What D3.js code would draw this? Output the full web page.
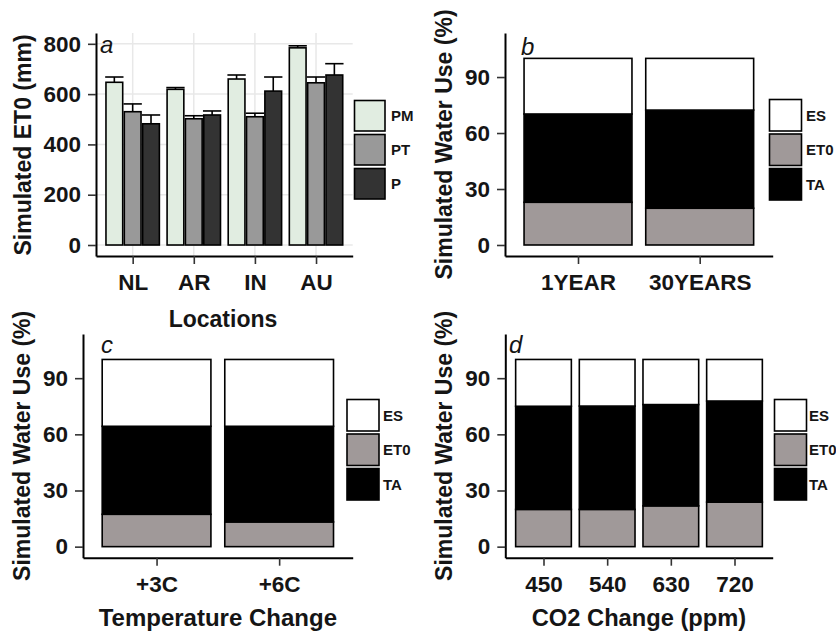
<!DOCTYPE html>
<html>
<head>
<meta charset="utf-8">
<script src="https://cdn.jsdelivr.net/npm/d3@7"></script>
<style>
html,body{margin:0;padding:0;background:#fff;}
svg{display:block;}
text{font-family:"Liberation Sans",Arial,sans-serif;fill:#151515;}
</style>
</head>
<body>
<svg id="chart" width="836" height="635"></svg>
<script>
// ---------- DATA ----------
// Panel a: simulated ET0 (mm) by location and method
const locations = ["NL", "AR", "IN", "AU"];
const methods = ["PM", "PT", "P"];
const pmValues = [647, 619, 660, 784];
const pmErrTop = [668, 626, 676, 792];
const ptValues = [530, 502, 510, 645];
const ptErrTop = [561, 514, 524, 668];
const pValues  = [482, 517, 612, 676];
const pErrTop  = [517, 533, 668, 721];
const etTicks = [0, 200, 400, 600, 800];

// Panels b-d: simulated water use (%) — stacked ET0 / TA / ES
const components = ["ET0", "TA", "ES"];
const legendOrder = ["ES", "ET0", "TA"];
const useTicks = [0, 30, 60, 90];

const periodCats = ["1YEAR", "30YEARS"];
const periodET0 = [22.9, 19.7];
const periodTA  = [47.3, 52.6];
const periodES  = [29.8, 27.7];

const tempCats = ["+3C", "+6C"];
const tempET0 = [17.3, 13.2];
const tempTA  = [47.0, 51.1];
const tempES  = [35.7, 35.7];

const co2Cats = ["450", "540", "630", "720"];
const co2ET0 = [19.9, 19.9, 21.8, 23.8];
const co2TA  = [55.1, 55.2, 54.1, 54.0];
const co2ES  = [25.0, 24.9, 24.1, 22.2];

// ---------- STYLE ----------
const methodColor = {PM: "#e1ede1", PT: "#999999", P: "#333333"};
const compColor = {ES: "#ffffff", ET0: "#a09999", TA: "#000000"};
const TICK_FONT = 22.5;

const svg = d3.select("#chart");

function styleAxis(g) {
  g.select(".domain").attr("stroke", "#000").attr("stroke-width", 2);
  g.selectAll(".tick line").attr("stroke", "#333").attr("stroke-width", 1.6);
  g.selectAll(".tick text")
    .attr("font-family", "Liberation Sans, Arial, sans-serif")
    .attr("font-size", TICK_FONT).attr("font-weight", "bold").attr("fill", "#151515");
}

function drawAxes(P, x, y, cats, ticks, yFmt) {
  const gy = svg.append("g").attr("transform", `translate(${P.left},0)`)
    .call(d3.axisLeft(y).tickValues(ticks).tickSize(8).tickSizeOuter(0).tickPadding(7).tickFormat(yFmt));
  styleAxis(gy);
  const gx = svg.append("g").attr("transform", `translate(0,${P.bottom})`)
    .call(d3.axisBottom(x).tickValues(cats.map((c, i) => i + 1)).tickSize(8).tickSizeOuter(0)
      .tickPadding(10).tickFormat((d) => cats[d - 1]));
  styleAxis(gx);
  gx.selectAll(".tick text").attr("dy", "0.71em");
}

function legend(x0, y0, keys, colors, labelX, labelWeight, keyW, keyH, gap) {
  keys.forEach((k, i) => {
    const yy = y0 + i * (keyH + gap);
    svg.append("rect").attr("x", x0).attr("y", yy).attr("width", keyW).attr("height", keyH)
      .attr("fill", colors[k]).attr("stroke", "#000").attr("stroke-width", 1.6);
    svg.append("text").attr("x", labelX).attr("y", yy + keyH / 2).attr("dy", "0.36em")
      .attr("font-size", 15).attr("font-weight", labelWeight).text(k);
  });
}

function yTitle(txt, x, y) {
  svg.append("text").attr("transform", `translate(${x},${y}) rotate(-90)`)
    .attr("text-anchor", "middle").attr("font-size", 23).attr("font-weight", "bold").text(txt);
}
function xTitle(txt, x, y, weight, size) {
  svg.append("text").attr("x", x).attr("y", y).attr("text-anchor", "middle")
    .attr("font-size", size).attr("font-weight", weight).text(txt);
}
function panelTag(txt, x, y) {
  svg.append("text").attr("x", x).attr("y", y).attr("font-size", 24)
    .attr("font-style", "italic").text(txt);
}

// ---------- PANEL A ----------
{
  const P = {left: 96, right: 352.7, top: 33, bottom: 256};
  const x = d3.scaleLinear().domain([0.4, locations.length + 0.6]).range([P.left, P.right]);
  const y = d3.scaleLinear().domain([-43.7, 843]).range([P.bottom, P.top]);

  // grid
  const grid = svg.append("g");
  grid.selectAll("line.h").data(etTicks).join("line")
    .attr("x1", P.left).attr("x2", P.right).attr("y1", (d) => y(d)).attr("y2", (d) => y(d))
    .attr("stroke", "#e8e8e8").attr("stroke-width", 1.5);
  grid.selectAll("line.v").data(locations.map((c, i) => i + 1)).join("line")
    .attr("y1", P.top).attr("y2", P.bottom).attr("x1", (d) => x(d)).attr("x2", (d) => x(d))
    .attr("stroke", "#e8e8e8").attr("stroke-width", 1.5);

  const series = [
    {m: "PM", v: pmValues, e: pmErrTop},
    {m: "PT", v: ptValues, e: ptErrTop},
    {m: "P",  v: pValues,  e: pErrTop}
  ];
  const dodge = 0.9 / methods.length;
  const rows = [];
  series.forEach((s, j) => locations.forEach((loc, i) => {
    rows.push({m: s.m, i: i + 1, j, v: s.v[i], e: s.e[i]});
  }));
  const bx0 = (d) => x(d.i - 0.45 + d.j * dodge);
  const bx1 = (d) => x(d.i - 0.45 + (d.j + 1) * dodge);

  // error bars (upper half)
  const eb = svg.append("g");
  eb.selectAll("line.stem").data(rows).join("line")
    .attr("x1", (d) => (bx0(d) + bx1(d)) / 2).attr("x2", (d) => (bx0(d) + bx1(d)) / 2)
    .attr("y1", (d) => y(d.v)).attr("y2", (d) => y(d.e))
    .attr("stroke", "#000").attr("stroke-width", 1.6);
  eb.selectAll("line.cap").data(rows).join("line")
    .attr("x1", (d) => bx0(d)).attr("x2", (d) => bx1(d))
    .attr("y1", (d) => y(d.e)).attr("y2", (d) => y(d.e))
    .attr("stroke", "#000").attr("stroke-width", 1.6);

  svg.append("g").selectAll("rect").data(rows).join("rect")
    .attr("x", (d) => bx0(d) + 0.8).attr("width", (d) => bx1(d) - bx0(d) - 1.6)
    .attr("y", (d) => y(d.v)).attr("height", (d) => y(0) - y(d.v))
    .attr("fill", (d) => methodColor[d.m]).attr("stroke", "#000").attr("stroke-width", 1.6);

  drawAxes(P, x, y, locations, etTicks, d3.format("d"));
  panelTag("a", 100, 53);
  yTitle("Simulated ET0 (mm)", 31, 145);
  xTitle("Locations", 223, 327, "bold", 23);
  legend(354.5, 100.5, methods, methodColor, 391, "bold", 30.5, 30.5, 3.5);
}

// ---------- STACKED PANELS ----------
function stackedPanel(P, cats, et0, ta, es, tag, tagPos, titleX, titleWeight, titleSize, legX, legLabelX, legY) {
  const x = d3.scaleLinear().domain([0.4, cats.length + 0.6]).range([P.left, P.right]);
  const y = d3.scaleLinear().domain([-5.9, 113.6]).range([P.bottom, P.top]);
  const table = cats.map((c, i) => ({i: i + 1, ET0: et0[i], TA: ta[i], ES: es[i]}));
  const layers = d3.stack().keys(components)(table);
  const g = svg.append("g");
  layers.forEach((layer) => {
    g.append("g").selectAll("rect").data(layer).join("rect")
      .attr("x", (d) => x(d.data.i - 0.45) + 0.8)
      .attr("width", (d) => x(d.data.i + 0.45) - x(d.data.i - 0.45) - 1.6)
      .attr("y", (d) => y(d[1])).attr("height", (d) => y(d[0]) - y(d[1]))
      .attr("fill", compColor[layer.key]).attr("stroke", "#000").attr("stroke-width", 1.6);
  });
  drawAxes(P, x, y, cats, useTicks, d3.format("d"));
  panelTag(tag, tagPos[0], tagPos[1]);
  yTitle("Simulated Water Use (%)", P.left - 53, (P.top + P.bottom) / 2);
  if (titleX.text) xTitle(titleX.text, (P.left + P.right) / 2, titleX.y, titleWeight, titleSize);
  legend(legX, legY, legendOrder, compColor, legLabelX, "bold", 32, 31.5, 3);
}

stackedPanel({left: 505, right: 772.7, top: 33, bottom: 256}, periodCats, periodET0, periodTA, periodES,
  "b", [521, 55], {text: "", y: 0}, "bold", 23, 769.5, 806, 99.5);
stackedPanel({left: 83, right: 352.7, top: 334, bottom: 557.7}, tempCats, tempET0, tempTA, tempES,
  "c", [101, 353], {text: "Temperature Change", y: 626}, "bold", 24, 347, 383, 399.5);
stackedPanel({left: 505.3, right: 772.7, top: 334, bottom: 557.7}, co2Cats, co2ET0, co2TA, co2ES,
  "d", [509, 353], {text: "CO2 Change (ppm)", y: 626}, "bold", 23.7, 774.5, 809, 399.5);
</script>
</body>
</html>
